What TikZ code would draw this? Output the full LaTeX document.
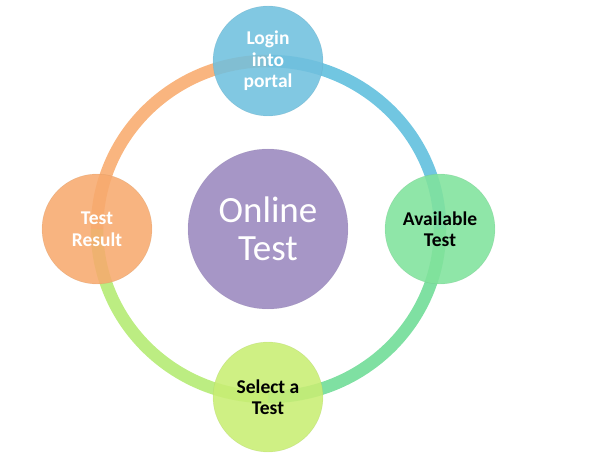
\documentclass[tikz,border=0pt]{standalone}
\usepackage{fontspec}
\setmainfont{Carlito}
\usepackage{xcolor}
\usepackage{tikz}
\usetikzlibrary{shapes.geometric, positioning}
\definecolor{loginblue}{RGB}{112,192,222}
\definecolor{availgreen}{RGB}{128,226,156}
\definecolor{selectlime}{RGB}{200,238,115}
\definecolor{resultorange}{RGB}{247,170,110}
\definecolor{hubpurple}{RGB}{166,150,198}
\definecolor{ringblue}{RGB}{88,188,220}
\definecolor{ringgreen}{RGB}{104,218,146}
\definecolor{ringlime}{RGB}{176,234,108}
\definecolor{ringorange}{RGB}{248,168,104}
\tikzstyle{hub} = [circle, minimum size=160pt, inner sep=0pt, align=center, fill=hubpurple, draw=hubpurple!85!black, draw opacity=0.3, text=white, font=\fontsize{37}{38}\selectfont]
\tikzstyle{stage} = [circle, minimum size=110pt, inner sep=0pt, align=center, fill opacity=0.88, text opacity=1, draw opacity=0.3, font=\fontsize{19.5}{21.5}\selectfont\bfseries]
\tikzstyle{ring} = [draw, line width=12.5pt, opacity=0.85]

\begin{document}
\begin{tikzpicture}[x=1pt, y=1pt, node distance=168pt]
    \useasboundingbox (-268,-234) rectangle (333,229);
    % Hub
    \node [hub] (hub) {Online\\Test};
    % Ring anchors
    \coordinate [above of=hub] (top);
    \coordinate [right of=hub, node distance=172pt] (east);
    \coordinate [below of=hub] (bottom);
    \coordinate [left of=hub, node distance=171pt] (west);

    % Ring
    \path [ring, draw=ringblue] (top) arc [start angle=90, end angle=0, x radius=172, y radius=168];
    \path [ring, draw=ringgreen] (east) arc [start angle=0, end angle=-90, x radius=172, y radius=168];
    \path [ring, draw=ringlime] (bottom) arc [start angle=270, end angle=180, x radius=171, y radius=168];
    \path [ring, draw=ringorange] (west) arc [start angle=180, end angle=90, x radius=171, y radius=168];

    % Stages
    \node [stage, fill=loginblue, draw=loginblue!80!black, text=white] at (top) (login) {Login\\into\\portal};
    \node [stage, fill=availgreen, draw=availgreen!80!black, text=black] at (east) (avail) {Available\\Test};
    \node [stage, fill=selectlime, draw=selectlime!80!black, text=black] at (bottom) (select) {Select a\\Test};
    \node [stage, fill=resultorange, draw=resultorange!80!black, text=white] at (west) (result) {Test\\Result};
\end{tikzpicture}
\end{document}
